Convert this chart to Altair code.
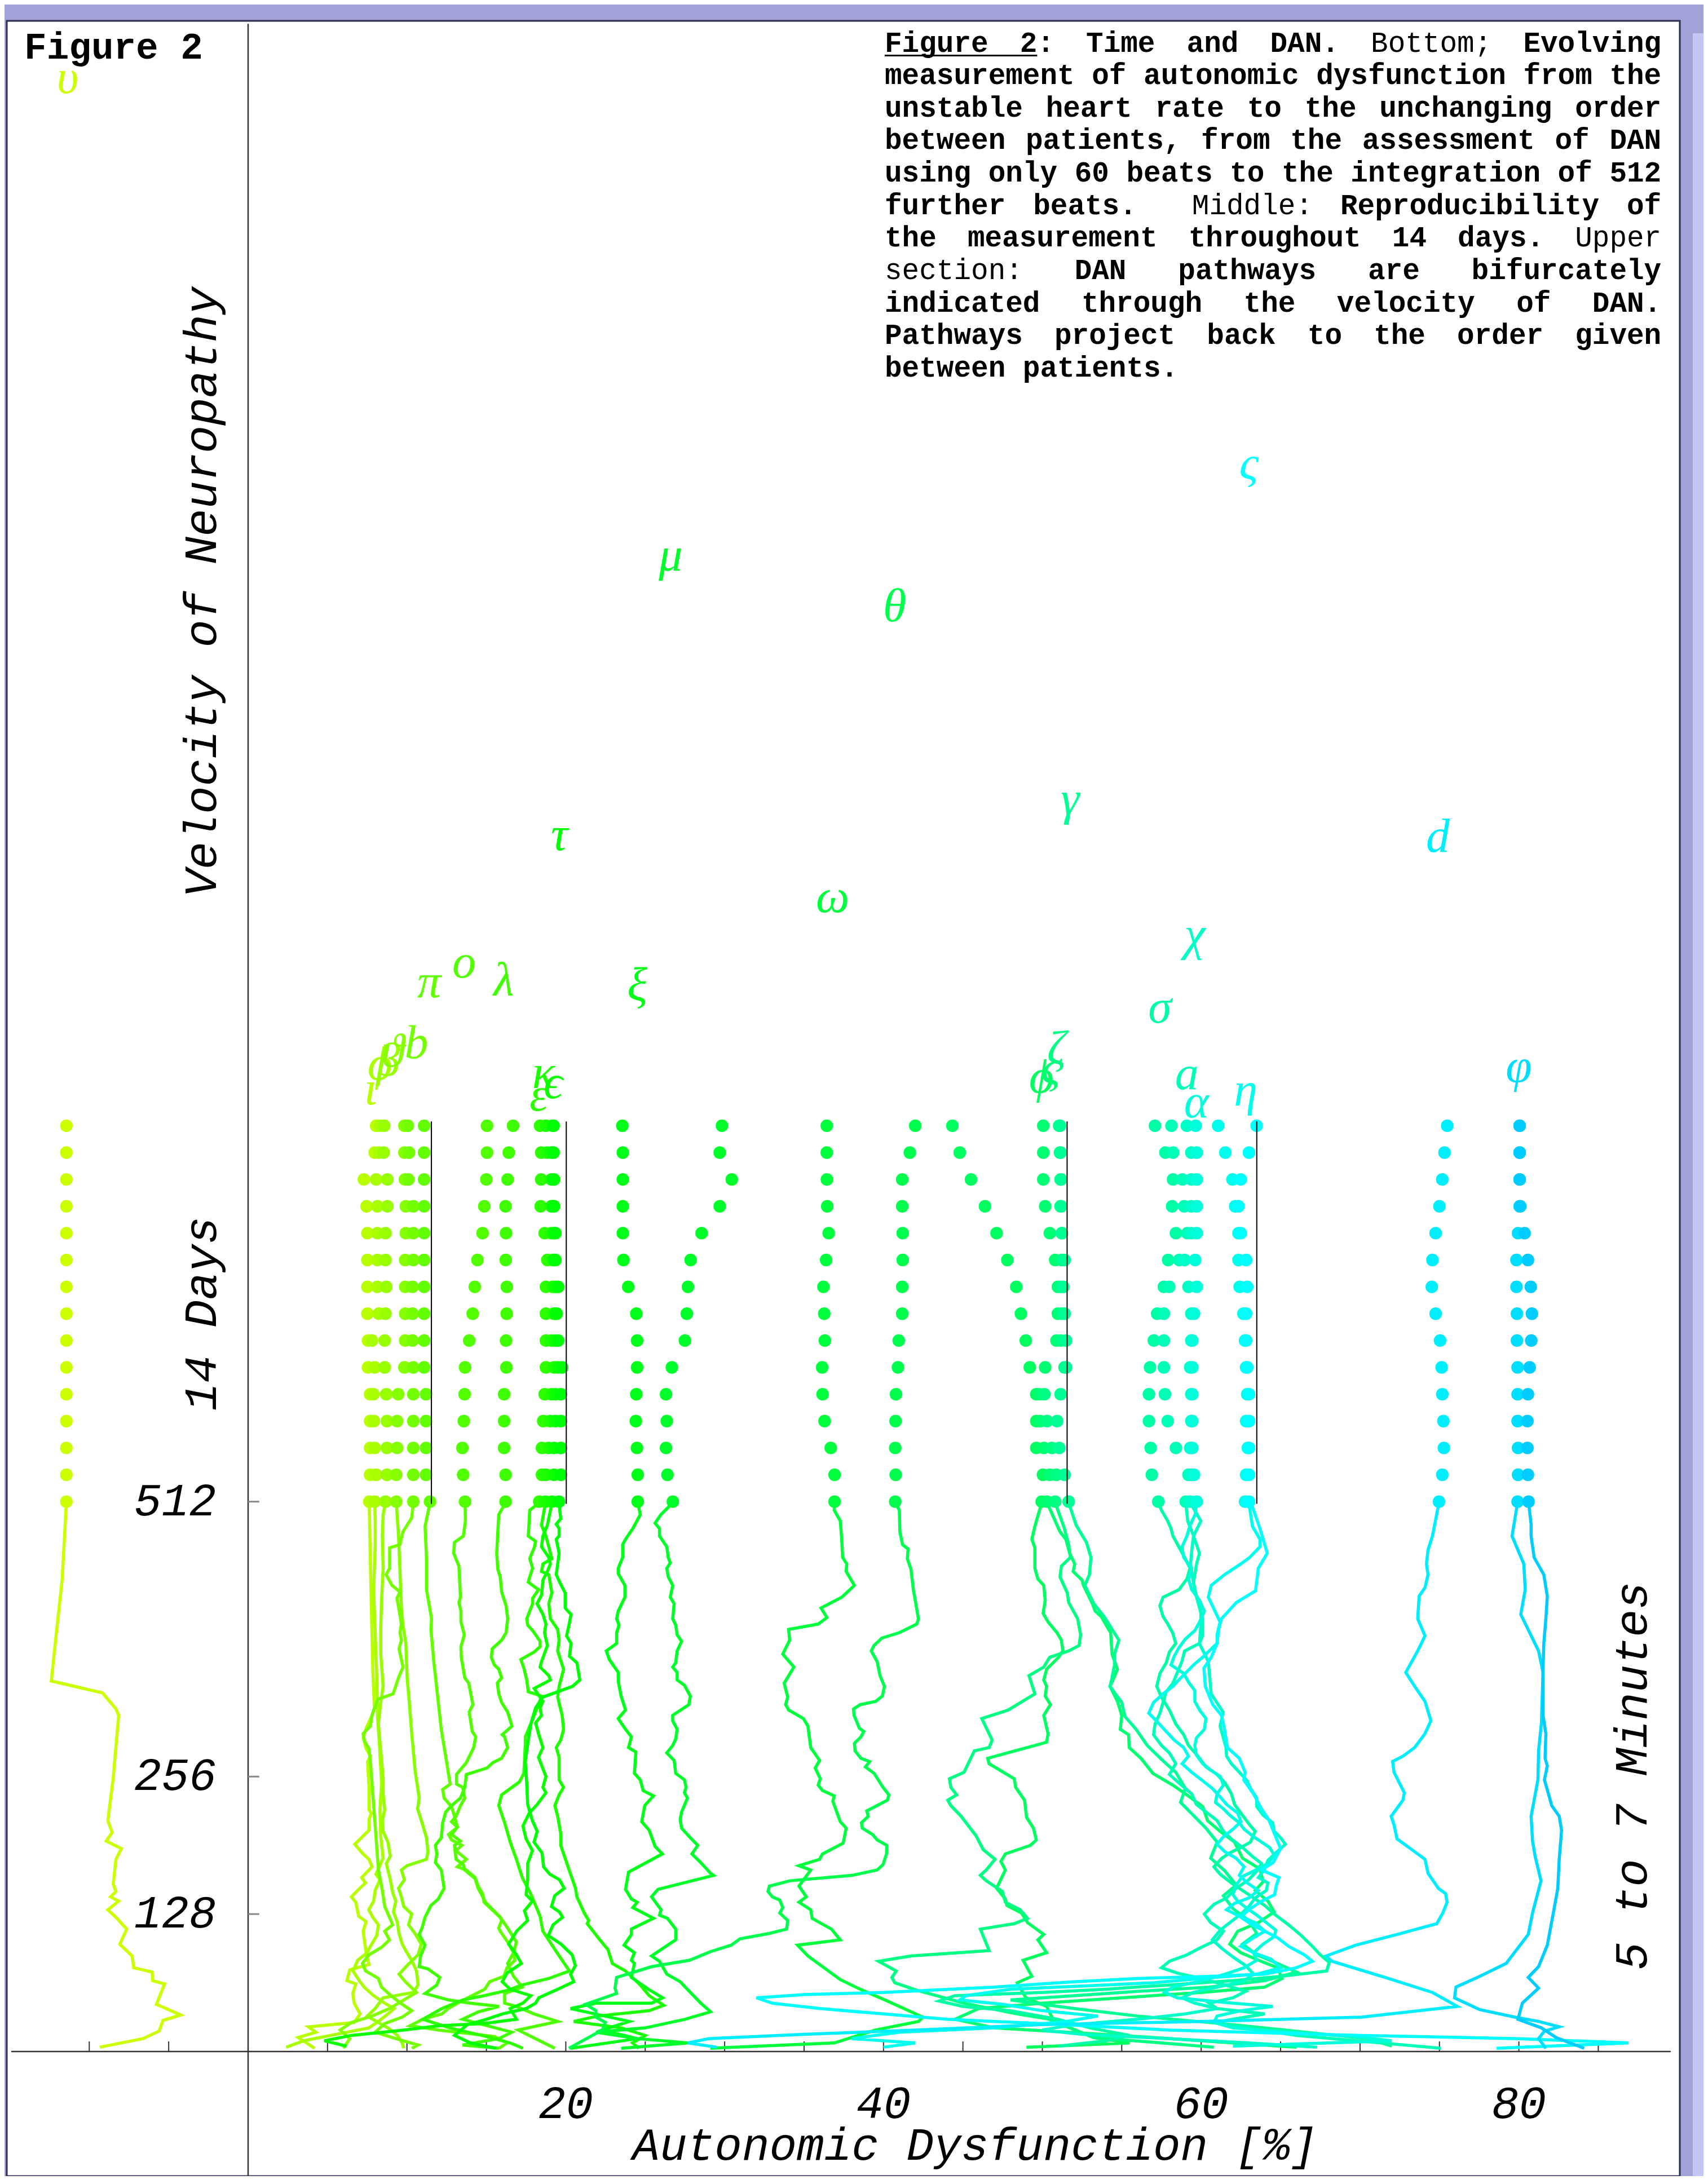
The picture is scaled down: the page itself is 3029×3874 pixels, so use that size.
import colorsys
import altair as alt
import pandas as pd

# ------------------------------------------------------------------ data
# patients in rank order (left -> right at 512 beats)
PATIENT_LABELS = ["υ", "ι", "ϕ", "β", "ϑ", "b", "π", "ο", "λ", "ε", "κ", "ϵ", "τ", "ξ", "μ",
                  "ω", "θ", "ϕ", "ϛ", "ζ", "γ", "σ", "a", "χ", "α", "η", "ς", "d", "φ", ""]
LABEL_X = [-11.36, 7.72, 8.31, 8.82, 9.1, 10.6, 11.4, 13.6, 16.1, 18.3, 18.6, 19.2, 19.6, 24.5, 26.6,
           36.8, 40.7, 49.95, 50.6, 50.9, 51.75, 57.4, 59.1, 59.6, 59.7, 62.8, 63.0, 74.9, 80.0, 80.6]
LABEL_Y = [1837, 895, 918, 922, 930, 938, 995, 1013, 997, 889, 910, 901, 1132, 992, 1392,
           1074, 1345, 906, 915, 933, 1165, 971, 909, 1039, 883, 894, 1477, 1130, 916, 0]

# the 15 daily measurements (day 0 at 512 beats ... day 14 at the top)
DAY_Y = [512, 537, 562, 587, 612, 637, 662, 687, 712, 737, 762, 787, 812, 837, 862]
D01 = [-11.44, -11.44, -11.44, -11.44, -11.44, -11.44, -11.44, -11.44, -11.44, -11.44, -11.44, -11.44, -11.44, -11.44, -11.44]
D02 = [7.63, 7.68, 7.68, 7.68, 7.68, 7.55, 7.55, 7.51, 7.51, 7.51, 7.51, 7.46, 7.29, 7.97, 8.06]
D03 = [7.97, 8.06, 7.97, 7.92, 7.89, 7.97, 7.80, 8.23, 8.14, 8.14, 8.14, 8.14, 8.06, 8.23, 8.31]
D04 = [8.65, 8.74, 8.74, 8.74, 8.70, 8.60, 8.60, 8.65, 8.70, 8.65, 8.65, 8.77, 8.77, 8.53, 8.57]
D05 = [9.33, 9.33, 9.38, 9.38, 9.45, 9.84, 9.89, 9.89, 9.89, 9.89, 9.93, 9.93, 9.87, 9.84, 9.84]
D06 = [10.40, 10.40, 10.40, 10.40, 10.40, 10.40, 10.35, 10.35, 10.35, 10.40, 10.40, 10.40, 10.09, 10.13, 10.06]
D07 = [11.45, 11.20, 11.20, 11.20, 11.20, 11.08, 11.08, 11.08, 11.08, 11.08, 11.08, 11.08, 11.08, 11.08, 11.08]
D08 = [13.66, 13.54, 13.49, 13.58, 13.63, 13.66, 13.92, 14.14, 14.27, 14.44, 14.76, 14.87, 15.00, 15.04, 15.04]
D09 = [16.21, 16.21, 16.12, 16.12, 16.12, 16.26, 16.24, 16.28, 16.29, 16.22, 16.24, 16.21, 16.34, 16.41, 16.68]
D10 = [18.33, 18.50, 18.50, 18.58, 18.67, 18.75, 18.75, 18.75, 18.75, 18.84, 18.67, 18.42, 18.45, 18.45, 18.38]
D11 = [18.72, 18.75, 18.92, 19.01, 19.09, 19.26, 19.09, 19.26, 19.18, 19.18, 19.09, 19.09, 19.09, 18.84, 18.75]
D12 = [19.13, 19.26, 19.26, 19.35, 19.35, 19.52, 19.35, 19.35, 19.35, 19.26, 19.26, 19.18, 19.18, 19.09, 19.18]
D13 = [19.57, 19.69, 19.69, 19.69, 19.69, 19.77, 19.52, 19.43, 19.52, 19.35, 19.35, 19.26, 19.26, 19.23, 19.23]
D14 = [24.53, 24.53, 24.48, 24.41, 24.44, 24.49, 24.49, 24.44, 23.93, 23.63, 23.59, 23.59, 23.59, 23.59, 23.56]
D15 = [26.74, 26.40, 26.31, 26.36, 26.31, 26.68, 27.50, 27.62, 27.69, 27.86, 28.55, 29.69, 30.45, 29.69, 29.83]
D16 = [36.92, 36.92, 36.68, 36.29, 36.17, 36.14, 36.31, 36.27, 36.22, 36.39, 36.55, 36.46, 36.44, 36.43, 36.43]
D17 = [40.74, 40.77, 40.74, 40.76, 40.79, 40.91, 40.96, 41.18, 41.18, 41.21, 41.21, 41.18, 41.18, 41.66, 42.00]
D18 = [49.96, 50.04, 49.62, 49.62, 49.62, 49.21, 48.96, 48.65, 48.36, 47.80, 47.12, 46.39, 45.51, 44.80, 44.34]
D19 = [50.30, 50.47, 50.10, 49.87, 49.79, 50.18, 50.89, 50.98, 50.98, 50.81, 50.47, 50.18, 50.06, 50.06, 50.06]
D20 = [50.81, 50.89, 50.60, 50.30, 50.13, 51.40, 51.15, 51.23, 51.15, 51.23, 51.23, 51.15, 51.15, 51.11, 51.06]
D21 = [51.66, 51.40, 51.06, 50.93, 51.15, 51.49, 51.49, 51.40, 51.32, 51.40, 51.23, 51.18, 51.18, 51.15, 51.11]
D22 = [57.30, 56.89, 56.82, 56.71, 56.71, 56.78, 57.02, 57.23, 57.65, 57.92, 58.41, 58.17, 58.23, 57.75, 57.09]
D23 = [59.03, 59.20, 58.41, 57.89, 57.72, 57.65, 57.65, 57.65, 57.99, 58.62, 59.13, 58.93, 58.82, 58.23, 58.13]
D24 = [59.31, 59.38, 59.31, 59.38, 59.38, 59.31, 59.38, 59.38, 59.20, 58.96, 59.38, 59.38, 59.38, 59.38, 59.10]
D25 = [59.72, 59.55, 59.44, 59.44, 59.44, 59.44, 59.44, 59.55, 59.72, 59.62, 59.72, 59.72, 59.72, 59.72, 59.65]
D26 = [62.76, 62.83, 62.94, 62.83, 62.90, 62.83, 62.76, 62.66, 62.42, 62.35, 62.35, 62.14, 61.97, 61.52, 61.07]
D27 = [63.01, 63.01, 63.01, 63.01, 63.01, 62.90, 62.83, 62.83, 62.90, 62.83, 62.49, 62.35, 62.49, 63.01, 63.49]
D28 = [74.97, 75.18, 75.28, 75.25, 75.18, 75.14, 75.04, 74.76, 74.52, 74.56, 74.76, 75.00, 75.18, 75.32, 75.49]
D29 = [79.92, 79.95, 79.95, 79.92, 79.92, 79.92, 79.88, 79.88, 79.85, 79.85, 79.95, 80.05, 80.05, 80.05, 80.05]
D30 = [80.61, 80.57, 80.54, 80.54, 80.57, 80.68, 80.78, 80.82, 80.75, 80.57, 80.36, 80.09, 80.05, 80.05, 80.05]

# the 5-7 minute trajectories: (autonomic dysfunction %, beats)
T01 = [(-11.44, 511), (-11.71, 439), (-12.12, 383), (-12.39, 345), (-9.17, 334), (-8.32, 319), (-8.15, 313), (-8.49, 255),
       (-8.83, 215), (-8.56, 204), (-8.93, 196), (-7.98, 189), (-8.32, 179), (-8.49, 156), (-8.32, 149), (-8.66, 144),
       (-8.15, 140), (-8.83, 132), (-8.32, 125), (-7.64, 114), (-8.08, 100), (-7.3, 89), (-7.2, 78), (-6.04, 74),
       (-6.01, 66), (-5.26, 63), (-5.77, 44), (-4.24, 34), (-5.36, 29), (-5.6, 19), (-6.62, 12), (-9.34, 4)]
T02 = [(7.63, 511), (7.65, 490), (7.72, 440), (7.78, 400), (7.85, 355), (7.95, 320), (7.8, 313), (7.43, 301), (7.25, 292),
       (7.43, 282), (7.7, 275), (7.52, 270), (7.61, 246), (7.61, 232), (7.61, 225), (7.76, 222), (7.61, 216), (7.61, 206),
       (6.72, 193), (7.24, 184), (7.61, 179), (7.8, 172), (7.15, 162), (7.39, 157), (6.96, 151), (6.5, 144), (6.78, 139),
       (6.96, 126), (7.43, 121), (7.24, 112), (7.43, 92), (7.61, 81), (6.4, 76), (6.22, 66), (6.78, 63), (6.59, 54),
       (6.68, 45), (7.05, 35), (6.68, 27), (3.8, 23), (4.27, 18), (3.16, 13), (4.18, 3)]
T03 = [(7.97, 511), (8.0, 495), (8.0, 470), (7.9, 430), (8.0, 390), (8.1, 350), (8.15, 310), (8.25, 290), (8.4, 250),
       (8.3, 225), (8.35, 200), (8.5, 180), (8.05, 165), (8.3, 160), (8.0, 150), (7.9, 140), (7.6, 132), (7.85, 125),
       (8.2, 118), (8.1, 108), (7.7, 98), (7.5, 92), (6.9, 85), (6.6, 75), (7.0, 66), (7.3, 60), (7.9, 52), (8.6, 45),
       (9.2, 40), (8.8, 35), (8.2, 28), (7.6, 22), (5.2, 15), (3.5, 10), (2.4, 4)]
T04 = [(8.65, 511), (8.5, 500), (8.45, 480), (8.5, 450), (8.4, 420), (8.35, 395), (8.35, 370), (8.5, 340), (8.35, 325),
       (8.2, 305), (8.35, 280), (8.5, 255), (8.5, 240), (8.6, 225), (8.45, 215), (8.5, 205), (8.8, 195), (8.95, 182),
       (8.7, 175), (8.95, 160), (9.1, 148), (9.3, 140), (9.15, 130), (9.4, 120), (9.5, 110), (9.7, 100), (10.0, 92),
       (10.3, 85), (10.6, 75), (10.7, 62), (10.4, 55), (8.5, 50), (8.0, 40), (7.5, 33), (8.2, 27), (8.8, 22), (9.4, 15),
       (9.7, 8), (9.8, 3)]
T05 = [(9.33, 511), (9.47, 480), (9.56, 447), (9.65, 413), (9.75, 397), (9.93, 380), (10.02, 346), (10.12, 330),
       (10.21, 313), (10.3, 296), (10.4, 280), (10.5, 263), (10.67, 246), (10.77, 236), (10.67, 226), (10.95, 213),
       (11.23, 199), (11.32, 186), (11.23, 179), (10.0, 173), (9.65, 169), (9.84, 160), (9.47, 152), (9.65, 144),
       (9.8, 135), (10.3, 128), (10.1, 118), (10.5, 110), (10.9, 100), (10.7, 90), (10.0, 80), (9.5, 72), (9.9, 65),
       (10.6, 55), (9.8, 48), (8.9, 40), (7.8, 33), (6.5, 27), (5.8, 20), (6.4, 12), (6.0, 3)]
T06 = [(10.4, 511), (10.3, 497), (9.75, 484), (9.56, 472), (8.91, 469), (8.91, 450), (8.69, 444), (9.06, 434), (9.56, 428),
       (9.37, 422), (9.47, 414), (9.65, 398), (9.56, 390), (9.65, 383), (9.5, 375), (9.75, 358), (9.47, 348), (9.13, 333),
       (8.17, 328), (7.8, 313), (7.7, 303), (7.24, 296), (7.33, 289), (7.61, 282), (7.7, 270), (7.8, 250), (7.9, 230),
       (8.0, 210), (8.1, 190), (8.2, 170), (8.45, 150), (8.6, 135), (8.9, 125), (9.1, 118), (8.6, 112), (8.9, 104),
       (8.4, 97), (7.6, 90), (7.2, 82), (7.4, 75), (8.2, 68), (8.4, 60), (9.0, 52), (9.6, 45), (10.3, 38), (9.7, 32),
       (8.6, 26), (8.0, 18), (9.3, 12), (10.7, 6), (10.3, 3)]
T07 = [(11.45, 511), (11.14, 489), (11.23, 459), (11.23, 430), (11.55, 403), (11.51, 393), (11.69, 363), (12.16, 300),
       (12.72, 249), (12.25, 244), (12.34, 236), (12.81, 228), (12.99, 219), (13.18, 209), (12.62, 202), (12.81, 197),
       (13.46, 192), (13.09, 187), (13.74, 179), (13.18, 172), (13.74, 169), (14.29, 162), (14.48, 154), (14.76, 147),
       (14.85, 139), (15.87, 125), (15.96, 122), (15.78, 115), (15.87, 112), (16.34, 102), (16.71, 92), (16.8, 85),
       (16.3, 78), (16.1, 70), (15.2, 65), (14.9, 58), (14.1, 52), (13.3, 46), (12.6, 40), (12.2, 35), (11.0, 30),
       (10.2, 24), (12.0, 20), (15.5, 14), (16.3, 8), (15.8, 3)]
T08 = [(13.66, 511), (13.68, 494), (13.55, 480), (12.99, 474), (12.94, 464), (13.27, 452), (13.37, 423), (13.27, 418),
       (13.4, 410), (13.4, 400), (13.61, 388), (13.4, 377), (13.42, 367), (13.64, 348), (13.89, 343), (14.15, 323),
       (13.92, 316), (14.11, 298), (14.33, 293), (14.2, 283), (13.74, 269), (13.12, 258), (13.12, 249), (13.51, 246),
       (13.64, 236), (13.37, 229), (13.09, 219), (12.81, 214), (13.18, 209), (12.81, 202), (13.37, 196), (12.99, 192),
       (13.09, 179), (13.55, 174), (13.64, 169), (14.29, 161), (14.48, 152), (14.85, 142), (14.94, 139), (15.87, 125),
       (16.34, 115), (16.89, 102), (16.71, 92), (16.34, 82), (16.71, 70), (17.26, 60), (16.15, 54), (16.15, 45),
       (16.89, 42), (18.0, 35), (19.5, 28), (17.0, 20), (19.31, 3)]
T09 = [(16.21, 511), (15.78, 500), (15.72, 484), (15.65, 464), (15.72, 449), (15.87, 442), (15.96, 428), (16.24, 415),
       (16.34, 403), (16.24, 390), (15.96, 383), (15.37, 375), (15.31, 367), (15.5, 360), (15.78, 356), (15.96, 348),
       (15.69, 343), (15.78, 333), (15.96, 325), (16.34, 316), (16.61, 303), (16.0, 295), (16.15, 293), (16.34, 283),
       (15.96, 273), (15.41, 269), (15.04, 264), (13.74, 258), (13.64, 246), (13.37, 236), (12.81, 229), (12.44, 223),
       (12.25, 213), (12.16, 199), (11.79, 192), (11.88, 184), (11.79, 176), (12.16, 169), (12.34, 152), (11.97, 142),
       (11.51, 136), (11.14, 125), (10.95, 115), (10.77, 109), (11.14, 99), (10.86, 89), (10.77, 79), (11.32, 77),
       (12.07, 69), (11.88, 62), (11.14, 54), (12.62, 48), (14.0, 45), (15.8, 42), (14.5, 37), (13.5, 30), (14.8, 25),
       (16.6, 18), (15.78, 12), (13.5, 6), (15.8, 3)]
T10 = [(18.33, 511), (17.73, 504), (17.64, 480), (18.1, 475), (18.01, 469), (17.73, 459), (17.91, 450), (17.73, 442),
       (17.64, 437), (18.28, 430), (17.91, 422), (17.91, 417), (17.54, 403), (17.6, 397), (17.91, 392), (18.38, 382),
       (18.38, 377), (18.01, 372), (17.17, 365), (17.36, 357), (17.54, 346), (17.64, 335), (18.47, 331), (18.28, 323),
       (17.82, 306), (17.45, 293), (17.45, 286), (17.36, 259), (17.08, 251), (15.96, 239), (15.78, 229), (16.15, 213),
       (16.52, 194), (16.89, 179), (17.26, 162), (17.82, 146), (18.38, 126), (18.56, 112), (19.31, 95), (20.23, 75),
       (18.93, 68), (17.26, 62), (16.34, 57), (14.85, 52), (13.5, 48), (12.2, 40), (11.0, 30), (12.7, 22), (15.0, 14),
       (16.5, 8), (17.3, 3)]
T11 = [(18.72, 511), (18.47, 490), (18.75, 480), (19.12, 459), (18.56, 454), (18.47, 447), (18.93, 444), (19.12, 427),
       (18.93, 417), (19.03, 403), (19.49, 393), (19.58, 383), (19.49, 373), (19.86, 356), (19.58, 340), (19.49, 330),
       (19.77, 313), (19.86, 300), (19.68, 290), (19.4, 283), (19.58, 274), (19.58, 253), (19.86, 246), (19.58, 239),
       (19.31, 229), (19.49, 219), (19.68, 203), (19.68, 192), (20.14, 172), (20.61, 152), (20.7, 144), (21.16, 129),
       (21.44, 122), (21.35, 119), (21.72, 112), (22.09, 105), (22.65, 95), (22.93, 82), (23.76, 75), (24.69, 62),
       (25.25, 52), (26.17, 43), (25.25, 38), (22.0, 33), (20.5, 28), (23.5, 22), (25.0, 15), (24.2, 8), (24.6, 3)]
T12 = [(19.13, 511), (18.84, 490), (18.56, 480), (18.47, 470), (18.93, 460), (19.03, 454), (18.84, 447), (18.56, 439),
       (18.47, 425), (18.19, 417), (18.56, 407), (18.75, 398), (18.66, 390), (18.84, 378), (18.47, 363), (18.38, 358),
       (18.93, 350), (19.03, 346), (18.01, 338), (18.56, 326), (18.38, 320), (18.47, 313), (18.1, 306), (18.28, 296),
       (18.56, 283), (18.28, 274), (18.75, 256), (18.56, 246), (18.75, 241), (18.2, 230), (17.7, 222), (17.3, 210),
       (17.5, 198), (17.9, 187), (17.6, 175), (17.6, 160), (17.5, 146), (17.9, 140), (17.4, 131), (17.6, 122), (16.9, 112),
       (16.4, 100), (16.9, 90), (17.2, 82), (16.3, 73), (16.0, 65), (16.5, 58), (17.8, 52), (17.3, 45), (16.5, 40),
       (16.9, 30), (14.8, 26), (12.0, 24), (9.8, 20), (6.5, 15), (4.8, 10), (6.2, 5)]
T13 = [(19.57, 511), (19.68, 496), (19.4, 491), (19.58, 487), (19.58, 480), (19.4, 477), (19.58, 464), (19.49, 454),
       (19.4, 444), (19.68, 435), (19.96, 427), (19.96, 413), (20.33, 407), (20.2, 397), (20.05, 387), (20.33, 380),
       (20.23, 368), (20.7, 362), (20.88, 346), (20.42, 340), (19.49, 335), (19.12, 333), (18.56, 330), (18.1, 320),
       (17.82, 306), (17.64, 290), (17.45, 270), (17.54, 250), (17.6, 230), (17.9, 215), (18.2, 205), (18.0, 195),
       (18.5, 185), (18.6, 172), (19.0, 165), (19.6, 160), (19.9, 152), (19.3, 145), (19.1, 135), (19.6, 130),
       (19.8, 125), (19.2, 118), (18.9, 108), (19.7, 100), (20.4, 90), (20.6, 80), (20.3, 72), (20.5, 65), (19.5, 58),
       (18.3, 50), (18.1, 45), (17.5, 40), (16.0, 35), (15.0, 30), (13.8, 25), (13.0, 15), (14.0, 8), (15.6, 3)]
T14 = [(24.53, 511), (24.69, 500), (24.22, 487), (23.76, 477), (23.58, 472), (23.58, 460), (23.3, 450), (23.3, 445),
       (23.72, 434), (23.72, 423), (23.3, 410), (23.2, 403), (23.35, 397), (23.2, 390), (23.2, 380), (22.55, 373),
       (22.74, 365), (23.3, 353), (23.3, 345), (23.48, 331), (23.76, 318), (23.3, 310), (23.76, 300), (24.13, 293),
       (23.95, 283), (24.41, 279), (24.32, 259), (24.69, 253), (24.87, 243), (25.52, 238), (24.97, 229), (24.78, 214),
       (25.25, 206), (25.62, 191), (26.08, 184), (23.95, 167), (23.76, 151), (24.13, 142), (24.5, 139), (24.22, 134),
       (25.52, 124), (24.13, 114), (24.13, 109), (23.67, 99), (24.32, 92), (24.13, 85), (24.32, 82), (24.13, 69),
       (25.2, 58), (26.1, 50), (25.4, 45), (21.9, 45), (20.3, 40), (24.0, 28), (22.3, 20), (24.5, 12), (20.3, 3)]
T15 = [(26.74, 511), (25.99, 500), (25.62, 492), (25.9, 487), (25.9, 480), (26.36, 470), (26.45, 460), (26.58, 455),
       (26.36, 450), (26.45, 442), (26.73, 434), (26.58, 423), (26.82, 417), (26.73, 403), (26.92, 397), (27.01, 388),
       (27.29, 382), (27.01, 373), (26.92, 362), (26.73, 358), (27.01, 353), (27.01, 346), (27.47, 341), (27.84, 331),
       (27.75, 323), (26.73, 313), (26.73, 308), (27.01, 300), (26.92, 291), (26.73, 285), (26.36, 278), (26.82, 271),
       (26.92, 259), (27.47, 253), (27.57, 246), (27.47, 241), (27.66, 236), (27.29, 223), (27.2, 216), (27.29, 208),
       (27.84, 199), (28.31, 192), (27.94, 184), (28.49, 176), (29.11, 166), (29.3, 164), (25.8, 151), (25.4, 144),
       (26.0, 132), (25.9, 127), (26.4, 124), (26.92, 114), (26.92, 104), (25.4, 89), (25.9, 84), (26.36, 72),
       (27.2, 65), (27.84, 55), (28.5, 45), (29.11, 37), (27.5, 30), (25.0, 22), (21.9, 18), (24.5, 12), (27.7, 8),
       (23.5, 3)]
T16 = [(36.92, 511), (36.9, 504), (37.28, 494), (37.37, 477), (37.43, 460), (37.69, 454), (37.65, 447), (38.17, 434),
       (37.37, 423), (36.07, 413), (36.44, 404), (35.89, 398), (34.03, 393), (34.09, 383), (33.66, 370), (34.36, 358),
       (33.75, 343), (33.97, 330), (33.84, 323), (34.03, 318), (34.96, 310), (35.24, 303), (35.42, 283), (35.98, 271),
       (35.7, 264), (36.02, 254), (35.89, 248), (36.16, 243), (36.9, 238), (36.81, 233), (37.28, 214), (37.65, 208),
       (37.46, 194), (36.16, 184), (35.98, 179), (34.68, 173), (35.42, 169), (34.68, 154), (35.14, 144), (34.68, 139),
       (35.42, 132), (35.51, 124), (36.72, 114), (37.28, 104), (34.59, 99), (35.24, 89), (37.28, 67), (38.39, 59),
       (40.25, 47), (42.48, 32), (42.2, 28), (39.5, 20), (36.9, 8), (29.1, 3)]
T17 = [(40.74, 511), (41.0, 504), (41.03, 484), (41.2, 472), (41.55, 468), (41.5, 459), (41.73, 449), (41.88, 430),
       (42.2, 403), (42.1, 398), (41.0, 390), (39.9, 385), (39.4, 378), (39.23, 373), (39.6, 363), (39.78, 350),
       (40.06, 340), (39.93, 331), (39.51, 326), (38.54, 323), (38.11, 319), (38.15, 313), (38.48, 301), (38.76, 298),
       (38.58, 293), (38.17, 287), (38.21, 280), (38.58, 273), (39.13, 270), (38.86, 265), (39.41, 259), (39.97, 246),
       (40.34, 239), (40.25, 234), (38.95, 224), (39.04, 219), (38.61, 213), (38.67, 208), (39.32, 202), (39.6, 197),
       (40.21, 192), (40.19, 184), (39.97, 174), (39.6, 169), (38.02, 164), (34.12, 159), (32.82, 154), (32.73, 149),
       (33.01, 144), (33.47, 141), (33.66, 134), (33.47, 129), (33.97, 122), (33.9, 114), (32.82, 110), (30.97, 105),
       (30.41, 99), (29.11, 93), (27.8, 85), (25.4, 79), (23.2, 69), (23.1, 59), (23.2, 54), (21.25, 44), (21.9, 38),
       (21.9, 32), (22.5, 27), (22.3, 20), (20.2, 3)]
T18 = [(49.96, 511), (49.53, 489), (49.34, 477), (49.53, 469), (49.53, 450), (49.72, 440), (50.09, 434), (50.18, 420),
       (50.05, 408), (50.36, 400), (50.92, 390), (51.2, 383), (51.29, 373), (51.02, 367), (50.27, 356), (50.09, 346),
       (50.27, 340), (50.18, 331), (50.51, 323), (50.09, 313), (50.36, 296), (50.27, 288), (49.53, 285), (46.56, 273),
       (46.65, 268), (48.23, 254), (48.32, 246), (48.88, 234), (49.01, 218), (49.44, 208), (49.62, 197), (49.25, 192),
       (47.67, 184), (47.39, 177), (47.67, 169), (47.12, 152), (47.67, 142), (47.77, 136), (48.69, 129), (49.07, 120),
       (50.09, 109), (49.72, 104), (50.27, 92), (48.79, 85), (49.34, 70), (48.42, 64), (48.97, 50), (50.27, 42),
       (50.74, 28), (53.24, 13), (55.5, 8), (49.0, 4)]
T19 = [(50.30, 511), (51.11, 484), (51.48, 477), (51.72, 464), (52.04, 454), (51.94, 447), (52.5, 439), (52.59, 434),
       (53.15, 417), (53.33, 410), (53.71, 405), (53.98, 398), (54.3, 390), (54.39, 370), (54.73, 356), (54.45, 346),
       (54.26, 340), (54.73, 326), (55.0, 313), (54.91, 300), (55.43, 295), (55.47, 283), (56.21, 273), (56.96, 259),
       (58.22, 248), (59.0, 240), (60.1, 228), (60.4, 215), (61.2, 205), (62.1, 195), (62.6, 180), (63.7, 170),
       (63.9, 158), (63.4, 150), (64.2, 140), (64.6, 130), (63.6, 120), (62.3, 112), (61.8, 100), (62.5, 92), (63.6, 85),
       (64.8, 78), (65.1, 68), (64.0, 60), (60.0, 55), (55.0, 50), (50.0, 45), (46.0, 40), (44.5, 30), (47.0, 22),
       (55.0, 15), (62.0, 8), (66.0, 4)]
T20 = [(50.81, 511), (51.39, 487), (51.66, 472), (51.76, 460), (51.2, 452), (51.11, 442), (51.57, 427), (51.66, 418),
       (52.22, 403), (52.41, 388), (52.31, 378), (51.66, 373), (50.46, 367), (50.09, 358), (49.16, 350), (49.53, 333),
       (47.86, 318), (46.19, 310), (46.84, 290), (46.65, 283), (45.72, 280), (45.07, 260), (44.15, 254), (44.24, 246),
       (44.61, 239), (44.05, 234), (44.24, 229), (44.89, 219), (45.82, 201), (46.28, 188), (47.02, 179), (46.47, 169),
       (46.1, 164), (46.47, 159), (47.49, 149), (47.67, 139), (48.6, 132), (49.07, 124), (48.23, 119), (46.1, 114),
       (46.65, 94), (41.73, 89), (39.69, 84), (40.8, 75), (40.53, 69), (40.71, 64), (42.1, 57), (45.07, 45), (48.42, 35),
       (50.46, 30), (53.24, 13), (57.5, 8), (60.8, 4)]
T21 = [(51.66, 511), (52.13, 490), (52.78, 474), (53.06, 460), (52.96, 444), (52.68, 434), (53.24, 417), (53.89, 405),
       (54.82, 383), (54.54, 370), (54.54, 360), (54.36, 346), (54.26, 340), (55.0, 325), (55.2, 312), (55.9, 300),
       (56.6, 285), (57.5, 272), (58.4, 260), (59.0, 245), (58.7, 232), (59.5, 220), (60.3, 208), (61.0, 195),
       (60.6, 180), (61.5, 168), (62.2, 155), (61.4, 145), (62.0, 133), (63.0, 122), (63.5, 110), (62.6, 100),
       (63.5, 90), (64.8, 82), (66.0, 74), (64.0, 66), (60.5, 60), (56.0, 56), (52.0, 52), (48.0, 48), (52.0, 40),
       (56.0, 33), (62.0, 25), (70.5, 12), (72.0, 5)]
T22 = [(57.30, 511), (57.5, 504), (57.89, 494), (58.1, 487), (58.22, 480), (58.59, 470), (58.96, 460), (59.3, 450),
       (59.1, 440), (58.6, 430), (57.6, 423), (57.4, 415), (57.6, 405), (57.9, 398), (58.2, 390), (58.4, 380),
       (58.0, 372), (57.8, 362), (57.4, 352), (57.2, 340), (57.5, 330), (58.0, 318), (58.4, 305), (58.9, 295),
       (59.2, 285), (59.8, 275), (60.3, 265), (61.0, 258), (61.5, 250), (61.9, 240), (62.1, 230), (62.6, 220),
       (63.0, 212), (63.4, 205), (63.1, 195), (62.5, 190), (61.8, 185), (61.3, 180), (60.8, 172), (61.2, 165),
       (61.9, 157), (62.6, 150), (63.4, 142), (64.0, 136), (64.6, 128), (65.5, 118), (66.3, 108), (67.0, 98),
       (67.5, 90), (68.06, 83), (67.9, 75), (65.0, 70), (62.0, 66), (58.0, 62), (54.0, 58), (50.0, 55), (44.5, 52),
       (43.5, 47), (45.0, 42), (48.0, 38), (51.0, 30), (53.0, 22), (55.5, 15), (54.0, 10), (51.0, 5)]
T23 = [(59.03, 511), (59.15, 494), (59.52, 480), (59.89, 464), (59.71, 454), (59.52, 437), (59.71, 423), (60.08, 403),
       (60.08, 387), (59.89, 380), (58.96, 373), (58.78, 363), (58.5, 353), (58.22, 343), (57.8, 335), (57.6, 325),
       (57.4, 315), (57.1, 305), (57.0, 295), (57.5, 285), (58.0, 278), (58.4, 268), (58.0, 258), (58.6, 250),
       (59.4, 240), (59.7, 230), (60.4, 222), (61.0, 215), (61.4, 205), (61.9, 198), (62.6, 190), (63.2, 182),
       (63.8, 175), (63.5, 168), (63.0, 160), (62.2, 152), (61.6, 143), (60.8, 137), (60.2, 128), (60.6, 120),
       (61.4, 112), (61.0, 104), (60.0, 97), (59.1, 90), (58.0, 84), (57.5, 78), (58.5, 73), (60.0, 68), (61.5, 62),
       (62.8, 56), (62.0, 50), (60.5, 45), (61.0, 40), (64.0, 35), (60.8, 27), (66.0, 15), (75.1, 3)]
T24 = [(59.31, 511), (59.98, 494), (59.52, 480), (59.43, 470), (59.33, 454), (59.61, 427), (59.98, 413), (59.98, 397),
       (59.89, 380), (60.45, 363), (60.63, 333), (61.38, 316), (61.19, 303), (61.56, 283), (61.6, 275), (61.9, 268),
       (62.4, 260), (62.9, 252), (63.1, 245), (63.5, 236), (63.5, 228), (63.9, 220), (64.5, 213), (64.6, 205),
       (65.0, 199), (65.3, 193), (64.7, 185), (64.2, 178), (64.0, 170), (63.6, 162), (64.2, 157), (64.1, 150),
       (63.4, 143), (63.0, 135), (62.5, 128), (61.8, 120), (61.2, 113), (60.7, 104), (61.3, 96), (62.0, 88),
       (62.8, 80), (63.3, 72), (62.6, 65), (61.0, 60), (59.5, 55), (58.8, 50), (59.6, 45), (61.0, 40), (59.0, 35),
       (56.0, 30), (52.0, 25), (50.0, 20), (52.5, 16), (58.0, 12), (63.0, 8), (67.3, 4)]
T25 = [(59.72, 511), (59.62, 500), (59.3, 490), (59.1, 480), (58.8, 470), (58.9, 460), (59.4, 450), (59.2, 440),
       (59.4, 430), (59.9, 420), (60.2, 410), (59.9, 400), (59.6, 392), (59.0, 384), (58.6, 376), (58.3, 368),
       (58.1, 360), (58.9, 352), (59.2, 344), (59.6, 336), (59.6, 326), (59.9, 318), (60.3, 310), (60.2, 300),
       (59.7, 292), (59.6, 285), (59.7, 276), (60.1, 268), (60.6, 262), (61.2, 256), (61.4, 248), (61.0, 240),
       (60.9, 232), (61.4, 226), (61.8, 220), (62.4, 213), (62.7, 207), (63.3, 200), (64.3, 190), (64.6, 183),
       (64.2, 175), (63.3, 168), (62.6, 163), (62.2, 155), (62.0, 146), (62.3, 140), (62.9, 133), (63.5, 127),
       (64.1, 120), (64.7, 113), (64.6, 107), (63.9, 100), (63.3, 92), (63.5, 85), (62.7, 78), (61.5, 72), (59.8, 65),
       (58.2, 60), (57.7, 55), (58.5, 50), (62.0, 45), (64.5, 42), (62.5, 38), (61.0, 33), (60.8, 27), (62.0, 22),
       (65.5, 18), (69.5, 14), (72.0, 10), (68.0, 8), (62.0, 5)]
T26 = [(62.76, 511), (63.05, 506), (63.23, 489), (63.7, 477), (63.7, 470), (63.05, 460), (62.49, 454), (61.47, 444),
       (60.63, 434), (60.45, 423), (61.19, 400), (61.0, 388), (61.0, 380), (60.08, 367), (59.52, 360), (58.59, 346),
       (58.22, 340), (57.6, 333), (57.0, 325), (56.7, 315), (57.3, 306), (57.8, 298), (58.3, 290), (58.9, 283),
       (59.2, 275), (58.8, 268), (59.4, 260), (60.1, 252), (60.7, 245), (61.2, 237), (61.6, 230), (62.3, 222),
       (62.5, 214), (62.0, 207), (61.4, 200), (61.0, 193), (61.5, 186), (62.2, 180), (62.7, 172), (62.4, 164),
       (62.9, 157), (63.6, 150), (63.0, 143), (62.1, 138), (61.6, 132), (62.4, 126), (63.4, 120), (64.0, 112),
       (63.2, 105), (62.5, 98), (63.3, 92), (64.4, 86), (65.0, 78), (63.5, 72), (60.0, 68), (57.0, 64), (54.0, 62),
       (48.0, 58), (45.2, 52), (44.8, 48), (47.5, 44), (50.0, 38), (53.5, 33), (51.5, 28), (47.0, 22), (41.0, 18),
       (38.0, 12), (42.0, 8), (40.0, 4)]
T27 = [(63.01, 511), (63.23, 507), (63.7, 487), (64.16, 464), (63.6, 450), (63.42, 429), (62.21, 418), (61.28, 403),
       (61.1, 393), (61.0, 380), (60.63, 367), (60.17, 357), (60.26, 340), (60.73, 323), (61.28, 313), (61.47, 300),
       (61.65, 283), (62.4, 273), (62.77, 260), (62.68, 253), (63.33, 239), (63.79, 226), (64.25, 216), (64.72, 199),
       (65.0, 189), (64.53, 176), (63.79, 169), (64.9, 162), (64.72, 154), (64.62, 146), (63.8, 140), (63.0, 132),
       (62.5, 125), (63.2, 118), (64.0, 112), (64.8, 106), (65.5, 98), (66.5, 90), (67.0, 84), (66.0, 78), (64.0, 72),
       (60.5, 70), (56.0, 68), (52.0, 65), (47.0, 60), (40.0, 55), (35.0, 53), (32.0, 50), (33.0, 45), (36.0, 40),
       (40.0, 35), (44.0, 30), (50.0, 26), (58.0, 20), (70.0, 15), (80.0, 12), (86.9, 8), (78.6, 3)]
T28 = [(74.97, 511), (74.56, 480), (74.28, 467), (74.18, 454), (74.28, 444), (74.09, 432), (73.72, 424), (73.63, 403),
       (74.09, 387), (73.63, 373), (72.88, 353), (73.44, 340), (74.09, 326), (74.46, 308), (74.09, 296), (73.44, 283),
       (72.7, 275), (72.05, 270), (72.14, 260), (72.79, 241), (72.7, 234), (71.96, 219), (72.14, 211), (72.33, 198),
       (73.26, 188), (74.09, 179), (74.28, 166), (74.93, 152), (75.39, 147), (75.48, 139), (75.21, 129), (74.83, 119),
       (72.33, 109), (69.73, 99), (67.87, 89), (68.24, 84), (71.59, 69), (74.56, 55), (76.13, 42), (70.1, 32),
       (60.0, 28), (50.0, 25), (42.0, 20), (35.0, 16), (29.0, 12), (27.7, 8), (29.5, 4)]
T29 = [(79.92, 511), (79.57, 480), (80.31, 454), (80.4, 430), (80.12, 407), (81.24, 373), (81.52, 353), (81.42, 306),
       (81.24, 280), (81.2, 253), (80.77, 219), (80.86, 196), (81.02, 182), (81.39, 159), (80.86, 129), (80.59, 109),
       (79.2, 82), (77.53, 70), (76.04, 60), (75.95, 50), (77.53, 39), (79.75, 32), (81.24, 28), (82.54, 23),
       (81.61, 19), (81.24, 12), (81.7, 3)]
T30 = [(80.61, 511), (80.77, 491), (80.77, 480), (80.96, 460), (81.57, 444), (81.79, 424), (81.7, 403), (81.57, 380),
       (81.52, 353), (81.52, 313), (81.7, 296), (81.65, 273), (81.79, 266), (81.61, 253), (82.07, 229), (82.54, 219),
       (82.69, 206), (82.54, 179), (82.45, 152), (82.17, 129), (81.79, 99), (81.24, 79), (80.59, 69), (81.24, 59),
       (80.22, 45), (79.94, 30), (81.42, 22), (82.35, 13), (84.11, 3)]

# axis annotation values
X_TICK_LABELS = [20, 40, 60, 80]
X_MINOR_TICKS = [-10, -5, 5, 10, 15, 20, 25, 30, 35, 40, 45, 50, 55, 60, 65, 70, 75, 80, 85]
Y_TICKS = [128, 256, 512]
GROUP_RULES = [11.54, 20.03, 51.56, 63.5]

CAPTION = [
    [("Figure", "b"), ("2:", "b"), ("Time", "b"), ("and", "b"), ("DAN.", "b"), ("Bottom;", "n"), ("Evolving", "b")],
    [("measurement", "b"), ("of", "b"), ("autonomic", "b"), ("dysfunction", "b"), ("from", "b"), ("the", "b")],
    [("unstable", "b"), ("heart", "b"), ("rate", "b"), ("to", "b"), ("the", "b"), ("unchanging", "b"), ("order", "b")],
    [("between", "b"), ("patients,", "b"), ("from", "b"), ("the", "b"), ("assessment", "b"), ("of", "b"), ("DAN", "b")],
    [("using", "b"), ("only", "b"), ("60", "b"), ("beats", "b"), ("to", "b"), ("the", "b"), ("integration", "b"),
     ("of", "b"), ("512", "b")],
    [("further", "b"), ("beats.", "b"), ("Middle:", "n"), ("Reproducibility", "b"), ("of", "b")],
    [("the", "b"), ("measurement", "b"), ("throughout", "b"), ("14", "b"), ("days.", "b"), ("Upper", "n")],
    [("section:", "n"), ("DAN", "b"), ("pathways", "b"), ("are", "b"), ("bifurcately", "b")],
    [("indicated", "b"), ("through", "b"), ("the", "b"), ("velocity", "b"), ("of", "b"), ("DAN.", "b")],
    [("Pathways", "b"), ("project", "b"), ("back", "b"), ("to", "b"), ("the", "b"), ("order", "b"), ("given", "b")],
    [("between", "b"), ("patients.", "b")],
]
CAPTION_SPACES = {5: [1, 2, 1, 1]}

# ------------------------------------------------------------------ layout
W, H = 3013, 3852
PX_PER_X = 28.17
PX_PER_Y = 1.905
X0_PX, Y0_PX = 432.0, 3631.0
XMIN, XMAX = -X0_PX / PX_PER_X, (W - X0_PX) / PX_PER_X
YMIN, YMAX = (Y0_PX - H) / PX_PER_Y, Y0_PX / PX_PER_Y


def dx(px):
    return (px - X0_PX) / PX_PER_X


def dy(py):
    return (Y0_PX - py) / PX_PER_Y


xs = alt.Scale(domain=[XMIN, XMAX], nice=False, zero=False)
ys = alt.Scale(domain=[YMIN, YMAX], nice=False, zero=False)
X = lambda f: alt.X(f, type="quantitative", scale=xs, axis=None)
Y = lambda f: alt.Y(f, type="quantitative", scale=ys, axis=None)

TRAJ = [T01, T02, T03, T04, T05, T06, T07, T08, T09, T10, T11, T12, T13, T14, T15,
        T16, T17, T18, T19, T20, T21, T22, T23, T24, T25, T26, T27, T28, T29, T30]
DOTS = [D01, D02, D03, D04, D05, D06, D07, D08, D09, D10, D11, D12, D13, D14, D15,
        D16, D17, D18, D19, D20, D21, D22, D23, D24, D25, D26, D27, D28, D29, D30]
N = len(TRAJ)
pids = ["p%02d" % i for i in range(N)]
colors = []
for i in range(N):
    h = (72 + i * (120.0 / (N - 1))) / 360.0
    r, g, b = colorsys.hsv_to_rgb(h, 1.0, 1.0)
    colors.append("#%02x%02x%02x" % (round(r * 255), round(g * 255), round(b * 255)))
cscale = alt.Scale(domain=pids, range=colors)
COLOR = alt.Color("pid:N", scale=cscale, legend=None)

line_rows, dot_rows, lab_rows = [], [], []
for i in range(N):
    for j, (x, y) in enumerate(TRAJ[i]):
        line_rows.append(dict(pid=pids[i], i=j, x=x, y=y))
    for k in range(15):
        dot_rows.append(dict(pid=pids[i], x=DOTS[i][k], y=DAY_Y[k]))
    if PATIENT_LABELS[i]:
        lab_rows.append(dict(pid=pids[i], x=LABEL_X[i], y=LABEL_Y[i], t=PATIENT_LABELS[i]))
lines_df = pd.DataFrame(line_rows)
dots_df = pd.DataFrame(dot_rows)
labs_df = pd.DataFrame(lab_rows)

# panel / background
panel = alt.Chart(pd.DataFrame([dict(x=dx(4), x2=dx(2971), y=dy(29), y2=YMIN)])).mark_rect(
    fill="white", stroke="#2c2c55", strokeWidth=3).encode(x=X("x"), x2="x2", y=Y("y"), y2="y2")
strip = alt.Chart(pd.DataFrame([dict(x=dx(2994), x2=XMAX, y=dy(51), y2=YMIN)])).mark_rect(
    fill="#c6c6f4").encode(x=X("x"), x2="x2", y=Y("y"), y2="y2")

# axes
axis_df = pd.DataFrame([dict(x=dx(12), x2=89.56, y=0.0, y2=0.0), dict(x=0.0, x2=0.0, y=YMIN, y2=1888.0)])
axes = alt.Chart(axis_df).mark_rule(color="#333333", strokeWidth=2.5).encode(
    x=X("x"), x2="x2", y=Y("y"), y2="y2")
xt = alt.Chart(pd.DataFrame(dict(x=X_MINOR_TICKS))).mark_rule(color="#333333", strokeWidth=2).encode(
    x=X("x"), y=alt.Y(datum=0.0, scale=ys, axis=None), y2=alt.Y2(datum=9.4))
yt = alt.Chart(pd.DataFrame(dict(y=Y_TICKS))).mark_rule(color="#888888", strokeWidth=3).encode(
    y=Y("y"), x=alt.X(datum=0.0, scale=xs, axis=None), x2=alt.X2(datum=0.7))

lines = alt.Chart(lines_df).mark_line(strokeWidth=5.5).encode(
    x=X("x"), y=Y("y"), color=COLOR, order=alt.Order("i:Q"))
dots = alt.Chart(dots_df).mark_circle(size=500, opacity=1).encode(x=X("x"), y=Y("y"), color=COLOR)
grp = alt.Chart(pd.DataFrame(dict(x=GROUP_RULES))).mark_rule(color="black", strokeWidth=2).encode(
    x=X("x"), y=alt.Y(datum=510.0, scale=ys, axis=None), y2=alt.Y2(datum=866.0))
labs = alt.Chart(labs_df).mark_text(font="Liberation Serif", fontStyle="italic", fontSize=84,
                                    align="center", baseline="middle").encode(
    x=X("x"), y=Y("y"), text="t:N", color=COLOR)

MONO = "Liberation Mono"
xlab = alt.Chart(pd.DataFrame(dict(x=X_TICK_LABELS, t=[str(v) for v in X_TICK_LABELS]))).mark_text(
    font=MONO, fontStyle="italic", fontSize=81, align="center", baseline="middle", color="black").encode(
    x=X("x"), y=alt.Y(datum=-49.5, scale=ys, axis=None), text="t:N")
ylab = alt.Chart(pd.DataFrame(dict(y=Y_TICKS, t=[str(v) for v in Y_TICKS]))).mark_text(
    font=MONO, fontStyle="italic", fontSize=81, align="right", baseline="middle", color="black").encode(
    y=Y("y"), x=alt.X(datum=-2.0, scale=xs, axis=None), text="t:N")

titles_v = pd.DataFrame([
    dict(x=-2.91, y=1359.0, t="Velocity of Neuropathy"),
    dict(x=-2.91, y=687.0, t="14 Days"),
    dict(x=87.15, y=256.7, t="5 to 7 Minutes"),
])
tv = alt.Chart(titles_v).mark_text(font=MONO, fontStyle="italic", fontSize=82, angle=270,
                                   align="center", baseline="middle", color="black").encode(
    x=X("x"), y=Y("y"), text="t:N")
th = alt.Chart(pd.DataFrame([dict(x=45.76, y=-88.0, t="Autonomic Dysfunction [%]")])).mark_text(
    font=MONO, fontStyle="italic", fontSize=81, align="center", baseline="middle", color="black").encode(
    x=X("x"), y=Y("y"), text="t:N")
fig = alt.Chart(pd.DataFrame([dict(x=-14.09, y=1866.0, t="Figure 2")])).mark_text(
    font=MONO, fontWeight="bold", fontSize=66, align="left", baseline="middle", color="black").encode(
    x=X("x"), y=Y("y"), text="t:N")

# justified monospace caption
CAP_FS = 51
CHAR_PX = CAP_FS * 0.6001
CAP_LEFT_PX, CAP_TOP_PX, LINE_PX = 1561.0, 68.5, 57.65
cap_rows = []
underline = None
for li, words in enumerate(CAPTION):
    nchar = sum(len(w) for w, s in words)
    wts = CAPTION_SPACES.get(li, [1] * (len(words) - 1))
    per = 1.0 if li == len(CAPTION) - 1 else (45 - nchar) / float(sum(wts))
    pos = 0.0
    for wi, (w, s) in enumerate(words):
        cap_rows.append(dict(t=w, s=s, x=dx(CAP_LEFT_PX + pos * CHAR_PX), y=dy(CAP_TOP_PX + li * LINE_PX)))
        if li == 0 and wi == 1:
            underline = (dx(CAP_LEFT_PX), dx(CAP_LEFT_PX + (pos + 1) * CHAR_PX))
        pos += len(w) + (wts[wi] * per if wi < len(words) - 1 else 0)
cap_df = pd.DataFrame(cap_rows)
cap_b = alt.Chart(cap_df[cap_df.s == "b"]).mark_text(
    font=MONO, fontWeight="bold", fontSize=CAP_FS, align="left", baseline="middle", color="black").encode(
    x=X("x"), y=Y("y"), text="t:N")
cap_n = alt.Chart(cap_df[cap_df.s == "n"]).mark_text(
    font=MONO, fontSize=CAP_FS, align="left", baseline="middle", color="black").encode(
    x=X("x"), y=Y("y"), text="t:N")
ul = alt.Chart(pd.DataFrame([dict(x=underline[0], x2=underline[1], y=dy(CAP_TOP_PX + 22))])).mark_rule(
    color="black", strokeWidth=3).encode(x=X("x"), x2="x2", y=Y("y"))

chart = alt.layer(
    strip, panel, axes, xt, yt, lines, dots, grp, labs, xlab, ylab, tv, th, fig, cap_b, cap_n, ul
).properties(
    width=W, height=H, padding=0,
    autosize=alt.AutoSizeParams(type="none"),
    background="#a2a2d6",
).configure_view(stroke=None)

chart.save("out.html", embed_options={"renderer": "svg", "actions": False})
